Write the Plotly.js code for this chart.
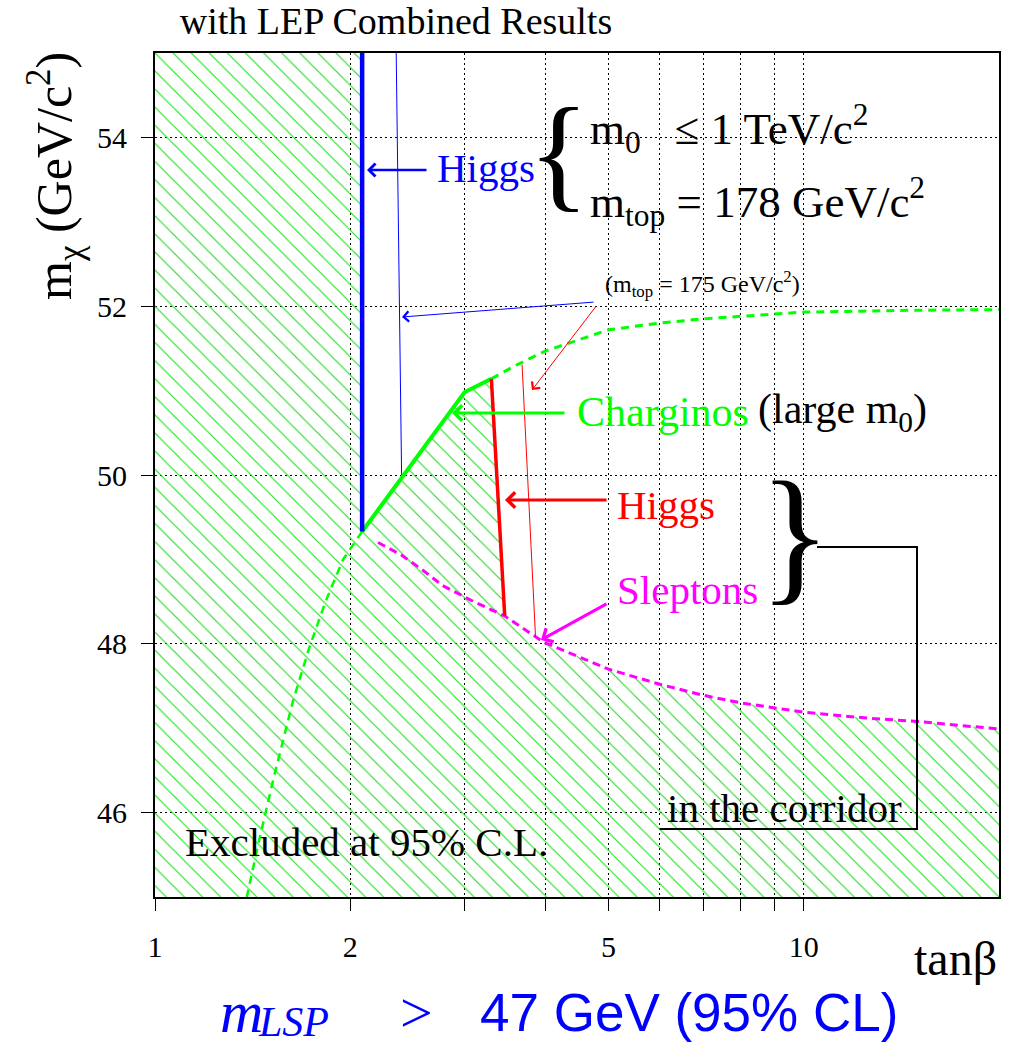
<!DOCTYPE html>
<html>
<head>
<meta charset="utf-8">
<script src="https://cdn.plot.ly/plotly-3.0.1.min.js"></script>
<style>html,body{margin:0;padding:0;background:#fff;}#chart{width:1015px;height:1050px;}</style>
</head>
<body>
<div id="chart"></div>
<script>
// ---- data (tanβ, mχ in GeV/c²) ----
const higgs178_tanb = [2.086, 2.086];
const higgs178_m    = [55.0, 49.33];
const higgs175_tanb = [2.354, 2.40];
const higgs175_m    = [55.0, 49.96];
const charSolid_tanb = [2.086, 3.0, 3.30];
const charSolid_m    = [49.33, 50.98, 51.14];
const charDashHigh_tanb = [3.30, 3.6, 4, 5, 6, 7, 8, 10, 14, 20];
const charDashHigh_m    = [51.14, 51.30, 51.47, 51.72, 51.80, 51.85, 51.88, 51.93, 51.95, 51.96];
const charDashLow_tanb = [2.086, 1.95, 1.834, 1.73, 1.633, 1.526, 1.45, 1.385];
const charDashLow_m    = [49.33, 49.00, 48.51, 47.96, 47.33, 46.43, 45.70, 45.00];
const higgsRed178_tanb = [3.30, 3.46];
const higgsRed178_m    = [51.14, 48.33];
const higgsRed175_tanb = [3.68, 3.86];
const higgsRed175_m    = [51.31, 48.08];
const slep_tanb = [2.207, 2.4, 2.6, 2.775, 3.1, 3.46, 3.97, 5, 6, 7, 8, 10, 12.5, 15, 20];
const slep_m    = [49.20, 49.05, 48.86, 48.69, 48.50, 48.33, 48.02, 47.70, 47.52, 47.39, 47.30, 47.19, 47.12, 47.08, 46.99];
const xRange = [1, 20];
const yRange = [45, 55];
const xTickVals = [1, 2, 3, 4, 5, 6, 7, 8, 9, 10];
const xTickText = ['1', '2', '', '', '5', '', '', '', '', '10'];
const yTickVals = [46, 48, 50, 52, 54];

// ---- excluded (hatched) region built from the curves ----
const hatchX = [xRange[0], xRange[0], higgs178_tanb[0]];
const hatchY = [yRange[0], yRange[1], yRange[1]];
charSolid_tanb.forEach((v, i) => { hatchX.push(v); hatchY.push(charSolid_m[i]); });
hatchX.push(higgsRed178_tanb[1]); hatchY.push(higgsRed178_m[1]);
slep_tanb.forEach((v, i) => { if (v > higgsRed178_tanb[1]) { hatchX.push(v); hatchY.push(slep_m[i]); } });
hatchX.push(xRange[1]); hatchY.push(yRange[0]);

const GREEN = '#00ff00', BLUE = '#0000ff', RED = '#ff0000', MAG = '#ff00ff';
const SERIF = 'Liberation Serif, Times New Roman, serif';
const SANS = 'Liberation Sans, Arial, sans-serif';

function line(x, y, color, width, dash) {
  return {x: x, y: y, type: 'scatter', mode: 'lines', hoverinfo: 'skip',
          line: {color: color, width: width, dash: dash || 'solid'}};
}

const traces = [
  {x: hatchX, y: hatchY, type: 'scatter', mode: 'lines', fill: 'toself',
   line: {width: 0, color: 'rgba(0,0,0,0)'}, fillcolor: 'rgba(0,0,0,0)', hoverinfo: 'skip',
   fillpattern: {shape: '\\', fgcolor: '#1ee01e', bgcolor: 'rgba(0,0,0,0)', size: 12.8, solidity: 0.09}},
  line(charDashLow_tanb, charDashLow_m, GREEN, 2.5, '8px,6px'),
  line(charDashHigh_tanb, charDashHigh_m, GREEN, 3, '8px,6px'),
  line(slep_tanb, slep_m, MAG, 3, '8px,5px'),
  line(higgs175_tanb, higgs175_m, BLUE, 1),
  line(higgsRed175_tanb, higgsRed175_m, RED, 1),
  line(charSolid_tanb, charSolid_m, GREEN, 4),
  line(higgsRed178_tanb, higgsRed178_m, RED, 3.5),
  line(higgs178_tanb, higgs178_m, BLUE, 4.5)
];

// pixel -> paper helpers for text placement (plot area 155..999 x 53..897)
const L = 155, T = 53, W = 844, H = 844;
const px = v => (v - L) / W;
const py = v => (T + H - v) / H;

function txt(x, y, text, size, color, opts) {
  return Object.assign({xref: 'paper', yref: 'paper', x: px(x), y: py(y), text: text,
    showarrow: false, xanchor: 'left', yanchor: 'middle',
    font: {family: SERIF, size: size, color: color}}, opts || {});
}
function arrow(tx, ty, hx, hy, color, width, size) {
  return {xref: 'paper', yref: 'paper', x: px(hx), y: py(hy), ax: tx - hx, ay: ty - hy,
    text: '', showarrow: true, arrowhead: 4, arrowsize: size, arrowwidth: width,
    arrowcolor: color, standoff: 0, startstandoff: 0};
}

const annotations = [
  txt(435, 168, 'Higgs', 41, BLUE),
  arrow(428, 170, 367, 170, BLUE, 2.5, 1.0),
  txt(558, 152, '{', 128, '#000', {xanchor: 'center'}),
  txt(588, 128, 'm<sub>0</sub>   ≤ 1 TeV/c<sup>2</sup>', 45, '#000'),
  txt(588, 202, 'm<sub>top</sub> = 178 GeV/c<sup>2</sup>', 45, '#000'),
  txt(603, 284, '(m<sub>top</sub> = 175 GeV/c<sup>2</sup>)', 24, '#000'),
  arrow(595, 302, 402, 317, BLUE, 1, 2.0),
  arrow(597, 305, 532, 390, RED, 1, 2.0),
  txt(575, 412, 'Charginos', 42, GREEN),
  txt(756, 412, '(large m<sub>0</sub>)', 42, '#000'),
  arrow(566, 413, 452, 413, GREEN, 3, 1.0),
  txt(615, 505, 'Higgs', 41, RED),
  arrow(608, 500, 505, 500, RED, 3, 1.0),
  txt(795, 534, '}', 150, '#000', {xanchor: 'center'}),
  txt(615, 590, 'Sleptons', 41, MAG),
  arrow(608, 603, 541, 640, MAG, 3, 1.0),
  txt(665, 808, 'in the corridor', 41, '#000'),
  txt(183, 842, 'Excluded at 95% C.L.', 41, '#000'),
  txt(912, 958, 'tanβ', 48, '#000'),
  txt(54, 176, 'm<sub>χ</sub> (GeV/c<sup>2</sup>)', 50, '#000', {xanchor: 'center', textangle: -90}),
  txt(218, 1012, '<i>m</i>', 60, BLUE),
  txt(256, 1022, '<i>LSP</i>', 42, BLUE),
  txt(398, 1012, '&gt;', 58, BLUE),
  txt(478, 1012, '47 GeV (95% CL)', 53, BLUE, {font: {family: SANS, size: 53, color: BLUE}})
];

const shapes = [
  {type: 'path', xref: 'paper', yref: 'paper',
   path: 'M' + px(817) + ',' + py(547) + ' L' + px(917) + ',' + py(547) + ' L' + px(917) + ',' + py(829) + ' L' + px(660) + ',' + py(829),
   line: {color: '#000', width: 2}}
];

const axisCommon = {
  showgrid: true, gridcolor: '#000', gridwidth: 1, griddash: '2px,3px',
  showline: true, linecolor: '#000', linewidth: 2, mirror: true,
  ticks: 'outside', ticklen: 12, tickwidth: 1, tickcolor: '#000',
  zeroline: false, tickfont: {family: SERIF, size: 30, color: '#000'}
};

const layout = {
  width: 1015, height: 1050,
  margin: {l: L, r: 1015 - L - W, t: T, b: 1050 - T - H, pad: 0},
  paper_bgcolor: '#fff', plot_bgcolor: '#fff', showlegend: false,
  title: {text: 'with LEP Combined Results', font: {family: SERIF, size: 38, color: '#000'},
          xref: 'paper', x: px(396), xanchor: 'center', yref: 'container', y: 1 - 21 / 1050, yanchor: 'middle'},
  xaxis: Object.assign({}, axisCommon, {type: 'log', range: [Math.log10(xRange[0]), Math.log10(xRange[1])],
          tickvals: xTickVals, ticktext: xTickText, ticklabelstandoff: 10}),
  yaxis: Object.assign({}, axisCommon, {range: yRange, tickvals: yTickVals, ticklabelstandoff: 8}),
  annotations: annotations,
  shapes: shapes
};

Plotly.newPlot('chart', traces, layout, {displayModeBar: false, staticPlot: true});
</script>
</body>
</html>
